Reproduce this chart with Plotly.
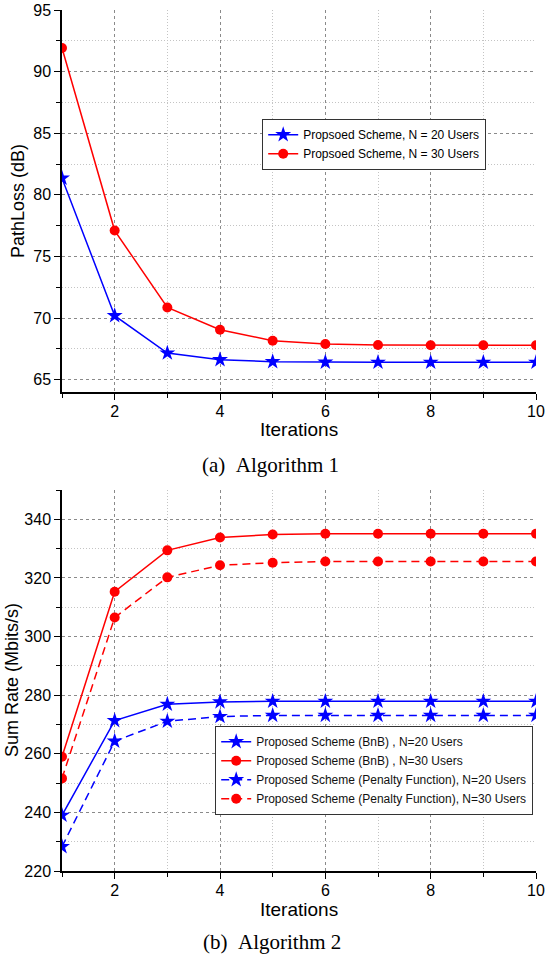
import plotly.graph_objects as go

iterations = [1, 2, 3, 4, 5, 6, 7, 8, 9, 10]

# (a) Algorithm 1 - PathLoss (dB)
pl_n20 = [81.35, 70.19, 67.16, 66.62, 66.46, 66.42, 66.41, 66.41, 66.41, 66.41]
pl_n30 = [91.92, 77.10, 70.86, 69.05, 68.16, 67.89, 67.81, 67.79, 67.79, 67.79]

# (b) Algorithm 2 - Sum Rate (Mbits/s)
sr_bnb_n20 = [239.0, 271.3, 276.9, 277.7, 277.9, 277.9, 277.9, 277.9, 277.9, 277.9]
sr_bnb_n30 = [259.0, 315.3, 329.4, 333.8, 334.8, 335.1, 335.1, 335.1, 335.1, 335.1]
sr_pen_n20 = [228.3, 264.3, 271.1, 272.7, 273.1, 273.1, 273.1, 273.1, 273.1, 273.1]
sr_pen_n30 = [251.6, 306.5, 320.2, 324.3, 325.2, 325.6, 325.6, 325.6, 325.6, 325.6]

legend_a = ["Propsoed Scheme, N = 20 Users", "Propsoed Scheme, N = 30 Users"]
legend_b = ["Proposed Scheme (BnB) , N=20 Users", "Proposed Scheme (BnB) , N=30 Users",
            "Proposed Scheme (Penalty Function), N=20 Users",
            "Proposed Scheme (Penalty Function), N=30 Users"]

BLUE = "#0000FF"
RED = "#FF0000"
FONT = "Arial, Liberation Sans, sans-serif"
W, H = 545, 958

fig = go.Figure()

def add(x, y, name, color, symbol, size, dash, xa, ya, leg):
    fig.add_trace(go.Scatter(
        x=x, y=y, name=name, mode="lines+markers",
        line=dict(color=color, width=1.5, dash=dash),
        marker=dict(color=color, symbol=symbol, size=size, line=dict(width=0)),
        xaxis=xa, yaxis=ya, legend=leg))

add(iterations, pl_n20, legend_a[0], BLUE, "star", 12, "solid", "x", "y", "legend")
add(iterations, pl_n30, legend_a[1], RED, "circle", 10, "solid", "x", "y", "legend")

add(iterations, sr_bnb_n20, legend_b[0], BLUE, "star", 12, "solid", "x2", "y2", "legend2")
add(iterations, sr_bnb_n30, legend_b[1], RED, "circle", 10, "solid", "x2", "y2", "legend2")
add(iterations, sr_pen_n20, legend_b[2], BLUE, "star", 12, "8px,5px", "x2", "y2", "legend2")
add(iterations, sr_pen_n30, legend_b[3], RED, "circle", 10, "8px,5px", "x2", "y2", "legend2")

px0, px1 = 62 / W, 536 / W
top_dom = [1 - 392 / H, 1 - 10 / H]
bot_dom = [1 - 871 / H, 1 - 490 / H]

def xaxis(anchor):
    return dict(
        domain=[px0, px1], anchor=anchor, range=[1, 10], tick0=0, dtick=2,
        automargin=False, ticklabelstandoff=-2,
        showline=True, linecolor="black", linewidth=1.5,
        ticks="outside", ticklen=6, tickwidth=1.2, tickcolor="black",
        showgrid=True, gridcolor="#8a8a8a", gridwidth=1, griddash="3px,3px",
        zeroline=False,
        tickfont=dict(family=FONT, size=16, color="black"),
        minor=dict(dtick=1, tick0=1, ticks="outside", ticklen=4, tickwidth=1,
                   tickcolor="black", showgrid=True, gridcolor="#c4c4c4",
                   griddash="1px,2px", gridwidth=1),
    )

def yaxis(anchor, dom, rng, tick0, dtick, mdtick):
    return dict(
        domain=dom, anchor=anchor, range=rng, tick0=tick0, dtick=dtick,
        automargin=False,
        showline=True, linecolor="black", linewidth=1.5,
        ticks="outside", ticklen=6, tickwidth=1.2, tickcolor="black",
        showgrid=True, gridcolor="#8a8a8a", gridwidth=1, griddash="3px,3px",
        zeroline=False,
        tickfont=dict(family=FONT, size=16, color="black"),
        minor=dict(dtick=mdtick, tick0=tick0, ticks="outside", ticklen=4, tickwidth=1,
                   tickcolor="black", showgrid=True, gridcolor="#c4c4c4",
                   griddash="1px,2px", gridwidth=1),
    )

fig.update_layout(
    width=W, height=H,
    margin=dict(l=0, r=0, t=0, b=0, autoexpand=False),
    paper_bgcolor="white", plot_bgcolor="white",
    xaxis=xaxis("y"),
    yaxis=yaxis("x", top_dom, [64, 95], 65, 5, 2.5),
    xaxis2=xaxis("y2"),
    yaxis2=yaxis("x2", bot_dom, [220, 350], 220, 20, 10),
    legend=dict(x=262 / W, y=1 - 119 / H, xanchor="left", yanchor="top",
                bgcolor="white", bordercolor="#333333", borderwidth=1.2,
                font=dict(family=FONT, size=12, color="black"),
                itemwidth=30, tracegroupgap=0),
    legend2=dict(x=215 / W, y=1 - 726 / H, xanchor="left", yanchor="top",
                 bgcolor="white", bordercolor="#333333", borderwidth=1.2,
                 font=dict(family=FONT, size=12, color="#111111"),
                 itemwidth=30, tracegroupgap=0),
    showlegend=True,
)

ann = [
    dict(text="Iterations", x=299 / W, y=1 - 430 / H, size=19, angle=0, fam=FONT),
    dict(text="PathLoss (dB)", x=18 / W, y=1 - 201 / H, size=18, angle=-90, fam=FONT),
    dict(text="Iterations", x=299 / W, y=1 - 909 / H, size=19, angle=0, fam=FONT),
    dict(text="Sum Rate (Mbits/s)", x=12 / W, y=1 - 680 / H, size=18, angle=-90, fam=FONT),
    dict(text="(a)\u00a0\u00a0Algorithm 1", x=270 / W, y=1 - 465 / H, size=21, angle=0,
         fam="Times New Roman, Liberation Serif, serif"),
    dict(text="(b)\u00a0\u00a0Algorithm 2", x=272 / W, y=1 - 942 / H, size=21, angle=0,
         fam="Times New Roman, Liberation Serif, serif"),
]
for a in ann:
    fig.add_annotation(text=a["text"], x=a["x"], y=a["y"], xref="paper", yref="paper",
                       xanchor="center", yanchor="middle", showarrow=False,
                       textangle=a["angle"], font=dict(family=a["fam"], size=a["size"], color="black"))

fig.write_html("out.html")
